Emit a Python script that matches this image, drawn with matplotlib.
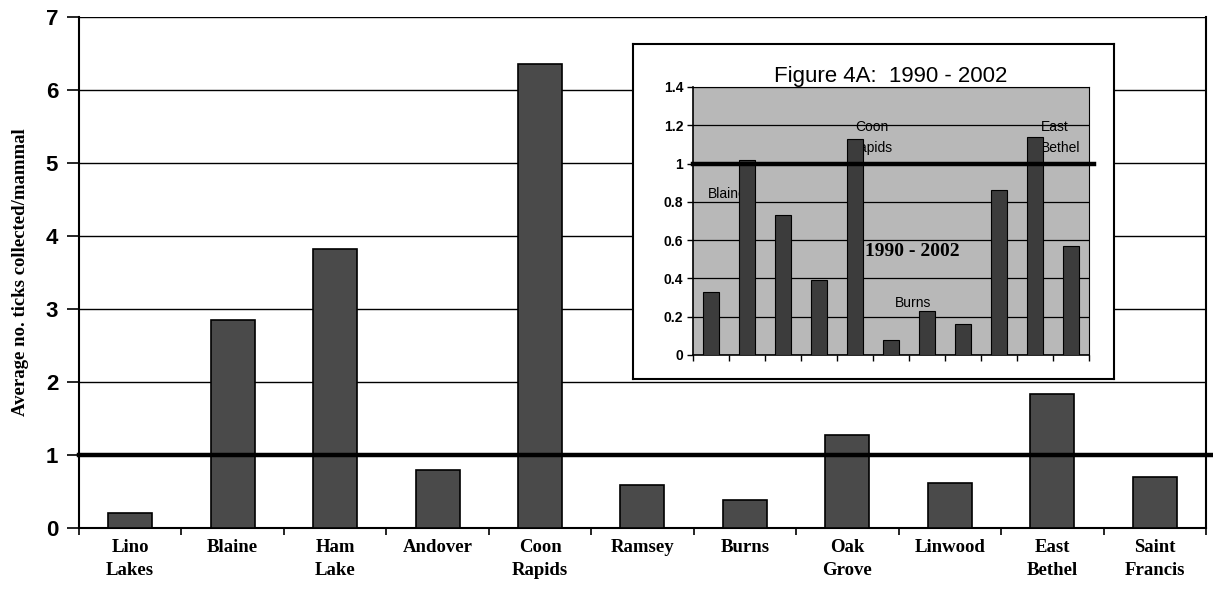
'''
Average ticks per mammal by township, with 1990 - 2002 inset
'''

import numpy as np
from matplotlib import pyplot as plt

# Main chart
towns = ['Lino\nLakes', 'Blaine', 'Ham\nLake', 'Andover', 'Coon\nRapids', 'Ramsey',
         'Burns', 'Oak\nGrove', 'Linwood', 'East\nBethel', 'Saint\nFrancis']
ticks_per_mammal = [0.2, 2.85, 3.82, 0.8, 6.35, 0.59, 0.39, 1.27, 0.61, 1.84, 0.7]

# Inset: Figure 4A, 1990 - 2002
inset_values = [0.33, 1.02, 0.73, 0.39, 1.13, 0.08, 0.23, 0.16, 0.86, 1.14, 0.57]
inset_notes = [('Blaine', 0.45, 0.84), ('Coon', 4.47, 1.19), ('Rapids', 4.47, 1.08),
               ('East', 9.55, 1.19), ('Bethel', 9.7, 1.08), ('Burns', 5.6, 0.27)]

sans = 'Liberation Sans'
serif = 'Liberation Serif'

fig = plt.figure(figsize=(12.13, 6.02), dpi=100)

ax = fig.add_axes([0.0651, 0.1229, 0.9291, 0.8489])
pos = np.arange(len(towns))
ax.bar(pos, ticks_per_mammal, width=0.43, color='#4a4a4a', edgecolor='black',
       linewidth=1.2, zorder=3)
ax.set_xlim(-0.5, len(towns) - 0.5)
ax.set_ylim(0, 7)
ax.set_yticks(range(0, 8))
ax.yaxis.grid(True, color='black', linewidth=1.0)
ax.set_axisbelow(True)
ax.axhline(1, xmin=0, xmax=1.006, color='black', linewidth=3.2, clip_on=False, zorder=4)

# ticks sit between the categories, labels at the centres
ax.set_xticks(np.arange(-0.5, len(towns)), labels=[])
ax.set_xticks(pos, labels=towns, minor=True)
ax.tick_params(axis='x', which='major', length=5, width=1.2, direction='out')
ax.tick_params(axis='x', which='minor', length=0, pad=8)
ax.tick_params(axis='y', length=9, width=1.2, pad=6)
for lbl in ax.get_xticklabels(minor=True):
    lbl.set_fontfamily(serif)
    lbl.set_fontweight('bold')
    lbl.set_fontsize(13.5)
    lbl.set_linespacing(1.45)
    lbl.set_verticalalignment('top')
for lbl in ax.get_yticklabels():
    lbl.set_fontfamily(sans)
    lbl.set_fontweight('bold')
    lbl.set_fontsize(16)
for side in ['left', 'right', 'bottom', 'top']:
    ax.spines[side].set_linewidth(1.5)
ax.spines['top'].set_visible(False)
ax.set_ylabel('Average no. ticks collected/mammal', fontfamily=serif,
              fontweight='bold', fontsize=13.5, labelpad=12)

# Inset frame
box = fig.add_axes([0.5219, 0.3704, 0.3965, 0.5565])
box.set_xticks([])
box.set_yticks([])
box.set_facecolor('white')
for side in box.spines.values():
    side.set_linewidth(1.5)

ins = fig.add_axes([0.5713, 0.4103, 0.3265, 0.4452])
ins.set_facecolor('#b8b8b8')
ipos = np.arange(len(inset_values))
ins.bar(ipos, inset_values, width=0.45, color='#3c3c3c', edgecolor='black',
        linewidth=0.8, zorder=3)
ins.set_xlim(-0.5, len(inset_values) - 0.5)
ins.set_ylim(0, 1.4)
ins.set_yticks(np.arange(0, 1.41, 0.2), labels=['0', '0.2', '0.4', '0.6', '0.8', '1', '1.2', '1.4'])
ins.yaxis.grid(True, color='black', linewidth=0.9)
ins.set_axisbelow(True)
ins.set_xticks(np.arange(-0.5, len(inset_values)), labels=[])
ins.tick_params(axis='x', length=4, width=1, direction='out')
ins.tick_params(axis='y', length=4, width=1, pad=3)
for lbl in ins.get_yticklabels():
    lbl.set_fontfamily(sans)
    lbl.set_fontweight('bold')
    lbl.set_fontsize(10)
for side in ['left', 'bottom']:
    ins.spines[side].set_linewidth(1.2)
for side in ['right', 'top']:
    ins.spines[side].set_linewidth(0.8)
ins.axhline(1, xmin=0, xmax=1.013, color='black', linewidth=3.2, clip_on=False, zorder=4)

for text, x, y in inset_notes:
    ins.text(x, y, text, ha='center', va='center', fontfamily=sans, fontsize=10,
             zorder=2)
ins.text(5.6, 0.54, '1990 - 2002', ha='center', va='center', fontfamily=serif,
         fontweight='bold', fontsize=14, zorder=2)
ins.set_title('Figure 4A:  1990 - 2002', fontfamily=sans, fontsize=16, pad=-3)

fig.savefig('out.png', dpi=100)
